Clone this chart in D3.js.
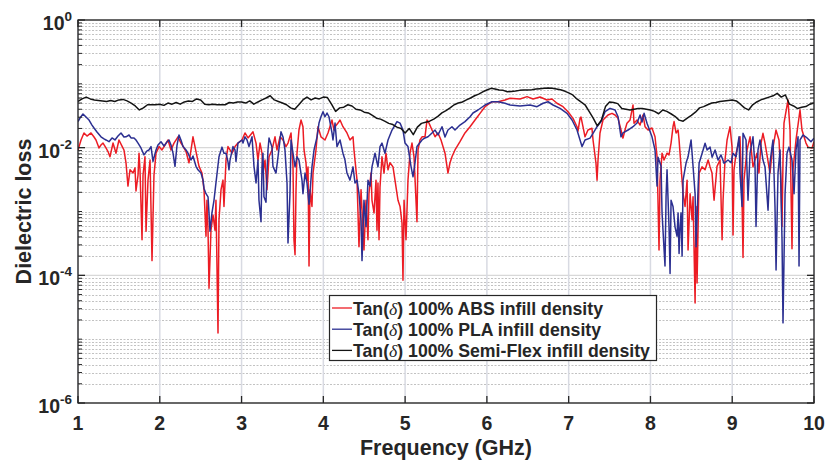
<!DOCTYPE html>
<html><head><meta charset="utf-8">
<script src="https://cdn.jsdelivr.net/npm/d3@7"></script>
<style>body{margin:0;background:#fff}svg{display:block}</style>
</head><body>
<svg id="c" width="827" height="462"></svg>
<script>
// ---- data: [frequency (GHz), tan(delta)] ----
const xTickValues=[1,2,3,4,5,6,7,8,9,10];
const yLabelExponents=[-6,-4,-2,0];
const legendLabels=["ABS","PLA","Semi-Flex"];

const absData=[[1.000,0.0092],[1.037,0.0132],[1.073,0.0170],[1.110,0.0152],[1.159,0.0170],[1.196,0.0147],[1.220,0.0132],[1.257,0.0099],[1.281,0.0110],[1.306,0.0118],[1.342,0.0099],[1.367,0.0087],[1.391,0.0072],[1.428,0.0118],[1.465,0.0082],[1.501,0.0132],[1.538,0.0106],[1.562,0.0092],[1.587,0.0058],[1.611,0.0025],[1.636,0.0045],[1.673,0.0040],[1.697,0.0048],[1.709,0.0021],[1.734,0.0037],[1.746,0.0082],[1.758,0.0045],[1.783,0.00036],[1.795,0.0037],[1.819,0.0072],[1.832,0.00049],[1.856,0.0031],[1.881,0.0064],[1.905,0.00017],[1.929,0.0037],[1.954,0.0082],[1.991,0.0104],[2.027,0.0092],[2.064,0.0110],[2.101,0.0132],[2.137,0.0092],[2.174,0.0118],[2.223,0.0148],[2.259,0.0118],[2.284,0.0106],[2.321,0.0087],[2.357,0.0058],[2.382,0.0092],[2.406,0.0148],[2.443,0.0087],[2.480,0.0051],[2.516,0.0040],[2.541,0.0022],[2.565,0.00041],[2.577,0.0015],[2.590,0.00051],[2.602,0.000063],[2.626,0.00051],[2.651,0.00088],[2.675,0.00051],[2.687,0.0015],[2.712,0.0000125],[2.724,0.00074],[2.749,0.0022],[2.773,0.0031],[2.785,0.0012],[2.810,0.0064],[2.834,0.0104],[2.883,0.0082],[2.920,0.0104],[2.956,0.0118],[3.005,0.0132],[3.042,0.0170],[3.079,0.0142],[3.128,0.0170],[3.140,0.0177],[3.177,0.0118],[3.201,0.0064],[3.226,0.0118],[3.250,0.0082],[3.262,0.0040],[3.287,0.0064],[3.311,0.0022],[3.336,0.0072],[3.372,0.0092],[3.409,0.0148],[3.433,0.0092],[3.470,0.0148],[3.507,0.0132],[3.543,0.0104],[3.568,0.0118],[3.605,0.0170],[3.629,0.0051],[3.641,0.00036],[3.654,0.00021],[3.666,0.0022],[3.678,0.0082],[3.702,0.0189],[3.727,0.0271],[3.751,0.0213],[3.764,0.0092],[3.788,0.0058],[3.800,0.0031],[3.813,0.0050],[3.825,0.00014],[3.837,0.0022],[3.861,0.0012],[3.874,0.0040],[3.910,0.0092],[3.935,0.0213],[3.971,0.0148],[4.020,0.0132],[4.057,0.0170],[4.106,0.0271],[4.130,0.0189],[4.143,0.0213],[4.179,0.0243],[4.204,0.0271],[4.240,0.0213],[4.289,0.0170],[4.326,0.0132],[4.363,0.0148],[4.375,0.0092],[4.412,0.0031],[4.436,0.00028],[4.461,0.0022],[4.497,0.00025],[4.522,0.0015],[4.546,0.00036],[4.558,0.0019],[4.583,0.0040],[4.595,0.0015],[4.620,0.00095],[4.644,0.0031],[4.656,0.00051],[4.668,0.0028],[4.681,0.00036],[4.693,0.0024],[4.717,0.0072],[4.742,0.0040],[4.766,0.0082],[4.791,0.0045],[4.815,0.0058],[4.852,0.0050],[4.876,0.0031],[4.913,0.0015],[4.938,0.0012],[4.962,0.00066],[4.974,0.000084],[4.987,0.0015],[5.011,0.00036],[5.035,0.0031],[5.060,0.0082],[5.084,0.0118],[5.109,0.0072],[5.145,0.00069],[5.158,0.0092],[5.182,0.0132],[5.207,0.0148],[5.243,0.0148],[5.268,0.0271],[5.292,0.0242],[5.329,0.0189],[5.366,0.0148],[5.402,0.0170],[5.439,0.0132],[5.488,0.0082],[5.524,0.0040],[5.549,0.0058],[5.573,0.0072],[5.610,0.0092],[5.671,0.0124],[5.732,0.0170],[5.794,0.0213],[5.855,0.0271],[5.916,0.0345],[5.977,0.0438],[6.063,0.0524],[6.136,0.0524],[6.222,0.0558],[6.283,0.0594],[6.405,0.0578],[6.491,0.0630],[6.564,0.0578],[6.650,0.0622],[6.735,0.0558],[6.796,0.0578],[6.857,0.0496],[6.931,0.0438],[6.992,0.0365],[7.053,0.0288],[7.102,0.0213],[7.114,0.0182],[7.139,0.0288],[7.151,0.0302],[7.175,0.0213],[7.200,0.0148],[7.236,0.0189],[7.285,0.0201],[7.298,0.0132],[7.334,0.0057],[7.347,0.0031],[7.359,0.0064],[7.383,0.0170],[7.420,0.0271],[7.481,0.0325],[7.530,0.0345],[7.567,0.0325],[7.604,0.0288],[7.640,0.0189],[7.664,0.0141],[7.689,0.0189],[7.713,0.0242],[7.750,0.0271],[7.787,0.0466],[7.799,0.0242],[7.836,0.0271],[7.873,0.0226],[7.909,0.0325],[7.934,0.0213],[7.971,0.0189],[8.019,0.0203],[8.056,0.0148],[8.081,0.0072],[8.105,0.00025],[8.117,0.0031],[8.142,0.0082],[8.166,0.0064],[8.203,0.0082],[8.227,0.0077],[8.252,0.0118],[8.276,0.0213],[8.289,0.0256],[8.313,0.0170],[8.338,0.0189],[8.350,0.0132],[8.374,0.0051],[8.399,0.0019],[8.423,0.0012],[8.448,0.0031],[8.460,0.00025],[8.485,0.0019],[8.509,0.00074],[8.521,0.0017],[8.546,0.000037],[8.558,0.0012],[8.570,0.000076],[8.595,0.0040],[8.631,0.0050],[8.668,0.0045],[8.705,0.0064],[8.729,0.0050],[8.753,0.0040],[8.778,0.0015],[8.814,0.0051],[8.851,0.0064],[8.876,0.00036],[8.888,0.0015],[8.912,0.0064],[8.937,0.0132],[8.973,0.0213],[8.998,0.0102],[9.010,0.00043],[9.022,0.0045],[9.047,0.0082],[9.095,0.0148],[9.120,0.0015],[9.132,0.00019],[9.144,0.0031],[9.181,0.0092],[9.218,0.0148],[9.254,0.0050],[9.303,0.0082],[9.327,0.0040],[9.352,0.0118],[9.376,0.0168],[9.401,0.0118],[9.425,0.0077],[9.462,0.0040],[9.487,0.0082],[9.535,0.0189],[9.572,0.0132],[9.596,0.0031],[9.609,0.00058],[9.621,0.0064],[9.633,0.0242],[9.682,0.0558],[9.707,0.0189],[9.731,0.00026],[9.743,0.0045],[9.780,0.0132],[9.829,0.0389],[9.853,0.0189],[9.902,0.0118],[9.927,0.0102],[9.976,0.0099],[10.000,0.0124]];

const plaData=[[1.000,0.0256],[1.024,0.0291],[1.061,0.0337],[1.098,0.0302],[1.135,0.0271],[1.171,0.0226],[1.196,0.0203],[1.232,0.0176],[1.281,0.0148],[1.318,0.0137],[1.342,0.0132],[1.379,0.0124],[1.416,0.0142],[1.452,0.0132],[1.489,0.0152],[1.526,0.0170],[1.562,0.0147],[1.587,0.0148],[1.624,0.0158],[1.648,0.0142],[1.685,0.0142],[1.709,0.0132],[1.734,0.0118],[1.770,0.0099],[1.807,0.0077],[1.844,0.0089],[1.868,0.0092],[1.893,0.0104],[1.917,0.0061],[1.954,0.0092],[1.978,0.0110],[2.015,0.0124],[2.052,0.0106],[2.088,0.0123],[2.113,0.0132],[2.137,0.0110],[2.162,0.0082],[2.186,0.0051],[2.211,0.0110],[2.235,0.0158],[2.259,0.0132],[2.284,0.0104],[2.321,0.0092],[2.345,0.0082],[2.382,0.0064],[2.406,0.0074],[2.443,0.0051],[2.467,0.0045],[2.504,0.0040],[2.529,0.0031],[2.541,0.0023],[2.565,0.0019],[2.590,0.0017],[2.602,0.00095],[2.614,0.00049],[2.638,0.00095],[2.663,0.0015],[2.687,0.0028],[2.712,0.0053],[2.724,0.0072],[2.761,0.0102],[2.785,0.0082],[2.810,0.0082],[2.834,0.0060],[2.846,0.0045],[2.859,0.0064],[2.895,0.0104],[2.920,0.0092],[2.932,0.0061],[2.956,0.0118],[3.005,0.0132],[3.018,0.0118],[3.042,0.0148],[3.067,0.0132],[3.091,0.0104],[3.128,0.0148],[3.152,0.0051],[3.177,0.0028],[3.201,0.0064],[3.213,0.0015],[3.238,0.00069],[3.250,0.0050],[3.262,0.0082],[3.274,0.0017],[3.299,0.0014],[3.311,0.0040],[3.323,0.0092],[3.336,0.0142],[3.372,0.0102],[3.384,0.0051],[3.421,0.0040],[3.446,0.0072],[3.482,0.0177],[3.507,0.0147],[3.531,0.0092],[3.556,0.0028],[3.568,0.00032],[3.592,0.0019],[3.605,0.0132],[3.629,0.0082],[3.654,0.0050],[3.678,0.0072],[3.702,0.0064],[3.739,0.0031],[3.751,0.0019],[3.776,0.0040],[3.800,0.0028],[3.825,0.0013],[3.861,0.0050],[3.886,0.0092],[3.923,0.0148],[3.947,0.0243],[3.971,0.0305],[3.996,0.0366],[4.020,0.0305],[4.045,0.0349],[4.069,0.0305],[4.106,0.0170],[4.118,0.0132],[4.143,0.0243],[4.167,0.0104],[4.204,0.0132],[4.240,0.0082],[4.265,0.0064],[4.289,0.0040],[4.326,0.0031],[4.363,0.0050],[4.387,0.0028],[4.412,0.0031],[4.436,0.0019],[4.461,0.00074],[4.473,0.00017],[4.497,0.0015],[4.522,0.00058],[4.546,0.0031],[4.571,0.0025],[4.595,0.0050],[4.632,0.0082],[4.668,0.0050],[4.693,0.0104],[4.717,0.0118],[4.754,0.0082],[4.791,0.0132],[4.840,0.0189],[4.901,0.0256],[4.938,0.0242],[4.974,0.0189],[4.999,0.0118],[5.035,0.0104],[5.072,0.0051],[5.097,0.0035],[5.121,0.0058],[5.145,0.0104],[5.207,0.0132],[5.243,0.0142],[5.280,0.0148],[5.329,0.0170],[5.366,0.0189],[5.402,0.0158],[5.451,0.0213],[5.488,0.0147],[5.524,0.0189],[5.573,0.0213],[5.610,0.0189],[5.671,0.0226],[5.732,0.0256],[5.794,0.0305],[5.830,0.0349],[5.891,0.0389],[5.977,0.0466],[6.063,0.0524],[6.136,0.0524],[6.222,0.0496],[6.283,0.0466],[6.405,0.0449],[6.528,0.0466],[6.613,0.0438],[6.687,0.0496],[6.748,0.0524],[6.809,0.0466],[6.895,0.0413],[6.980,0.0345],[7.041,0.0271],[7.102,0.0189],[7.139,0.0132],[7.163,0.0104],[7.200,0.0132],[7.261,0.0141],[7.298,0.0168],[7.347,0.0213],[7.396,0.0256],[7.445,0.0366],[7.506,0.0413],[7.567,0.0389],[7.604,0.0305],[7.640,0.0148],[7.664,0.0170],[7.726,0.0189],[7.787,0.0213],[7.836,0.0243],[7.873,0.0325],[7.897,0.0252],[7.922,0.0345],[7.958,0.0242],[8.019,0.0148],[8.056,0.0092],[8.081,0.0025],[8.093,0.0071],[8.130,0.0051],[8.142,0.00094],[8.178,0.00014],[8.191,0.0017],[8.203,0.0045],[8.227,0.00058],[8.240,0.000107],[8.252,0.0015],[8.276,0.0012],[8.301,0.00057],[8.325,0.00041],[8.338,0.00095],[8.350,0.00022],[8.362,0.00057],[8.374,0.00095],[8.387,0.00020],[8.399,0.0031],[8.436,0.0058],[8.460,0.0072],[8.497,0.0132],[8.509,0.0082],[8.546,0.0019],[8.558,0.00028],[8.583,0.0024],[8.595,0.0057],[8.644,0.0092],[8.668,0.0117],[8.693,0.0092],[8.729,0.0102],[8.754,0.0071],[8.790,0.0092],[8.827,0.0064],[8.863,0.0077],[8.900,0.0057],[8.949,0.0064],[8.986,0.0058],[9.010,0.0082],[9.047,0.0072],[9.083,0.0148],[9.095,0.0040],[9.120,0.0012],[9.132,0.0168],[9.169,0.0132],[9.193,0.0015],[9.218,0.0082],[9.254,0.0148],[9.279,0.0050],[9.291,0.00058],[9.315,0.0092],[9.340,0.0132],[9.376,0.0064],[9.401,0.0050],[9.438,0.00105],[9.462,0.0058],[9.487,0.0104],[9.499,0.0132],[9.523,0.0012],[9.536,0.000121],[9.560,0.0040],[9.585,0.0092],[9.609,0.00036],[9.621,0.000018],[9.646,0.0019],[9.670,0.0082],[9.694,0.0102],[9.731,0.0064],[9.756,0.0019],[9.780,0.0092],[9.805,0.0148],[9.817,0.00014],[9.829,0.0132],[9.866,0.0158],[9.915,0.0142],[9.963,0.0124],[10.000,0.0141]];

const flexData=[[1.00,0.053],[1.05,0.058],[1.10,0.062],[1.15,0.058],[1.20,0.056],[1.25,0.055],[1.30,0.054],[1.35,0.053],[1.40,0.055],[1.45,0.053],[1.50,0.056],[1.55,0.057],[1.60,0.054],[1.65,0.050],[1.70,0.045],[1.75,0.039],[1.80,0.042],[1.85,0.047],[1.90,0.047],[1.95,0.047],[2.00,0.048],[2.05,0.046],[2.10,0.050],[2.15,0.048],[2.20,0.051],[2.25,0.048],[2.30,0.052],[2.35,0.054],[2.40,0.053],[2.45,0.058],[2.50,0.056],[2.55,0.048],[2.60,0.047],[2.65,0.048],[2.70,0.047],[2.75,0.047],[2.80,0.047],[2.85,0.051],[2.90,0.050],[2.95,0.052],[3.00,0.052],[3.05,0.050],[3.10,0.054],[3.15,0.048],[3.20,0.052],[3.25,0.056],[3.30,0.060],[3.35,0.065],[3.40,0.056],[3.45,0.053],[3.50,0.050],[3.55,0.047],[3.60,0.042],[3.65,0.040],[3.70,0.047],[3.75,0.056],[3.80,0.062],[3.85,0.056],[3.90,0.060],[3.95,0.058],[4.00,0.062],[4.05,0.061],[4.10,0.048],[4.15,0.037],[4.20,0.042],[4.25,0.043],[4.30,0.047],[4.35,0.045],[4.40,0.040],[4.45,0.039],[4.50,0.036],[4.55,0.035],[4.60,0.032],[4.65,0.029],[4.70,0.028],[4.75,0.026],[4.80,0.024],[4.85,0.023],[4.90,0.021],[4.95,0.020],[5.00,0.017],[5.05,0.020],[5.10,0.016],[5.15,0.021],[5.20,0.024],[5.25,0.025],[5.30,0.026],[5.35,0.028],[5.40,0.031],[5.45,0.035],[5.50,0.038],[5.55,0.042],[5.60,0.047],[5.65,0.050],[5.70,0.052],[5.75,0.056],[5.80,0.060],[5.85,0.065],[5.90,0.069],[5.95,0.075],[6.00,0.080],[6.05,0.085],[6.10,0.083],[6.15,0.080],[6.20,0.079],[6.25,0.075],[6.30,0.076],[6.35,0.077],[6.40,0.079],[6.45,0.080],[6.50,0.080],[6.55,0.081],[6.60,0.083],[6.65,0.084],[6.70,0.085],[6.75,0.086],[6.80,0.085],[6.85,0.083],[6.90,0.081],[6.95,0.077],[7.00,0.072],[7.05,0.067],[7.10,0.058],[7.15,0.052],[7.20,0.047],[7.25,0.037],[7.30,0.029],[7.35,0.022],[7.40,0.027],[7.45,0.044],[7.50,0.052],[7.55,0.051],[7.60,0.049],[7.65,0.041],[7.70,0.040],[7.75,0.039],[7.80,0.040],[7.85,0.041],[7.90,0.041],[7.95,0.040],[8.00,0.039],[8.05,0.037],[8.10,0.034],[8.15,0.039],[8.20,0.037],[8.25,0.034],[8.30,0.031],[8.35,0.027],[8.40,0.026],[8.45,0.029],[8.50,0.032],[8.55,0.036],[8.60,0.042],[8.65,0.044],[8.70,0.047],[8.75,0.050],[8.80,0.051],[8.85,0.053],[8.90,0.054],[8.95,0.055],[9.00,0.056],[9.05,0.054],[9.10,0.048],[9.15,0.042],[9.20,0.039],[9.25,0.047],[9.30,0.052],[9.35,0.056],[9.40,0.059],[9.45,0.062],[9.50,0.065],[9.55,0.071],[9.60,0.062],[9.65,0.067],[9.70,0.048],[9.75,0.045],[9.80,0.041],[9.85,0.043],[9.90,0.044],[9.95,0.048],[10.00,0.050]];

// ---- layout ----
const L=78,R=814,T=20,B=403;
const AX="#262626";
const FONT="Liberation Sans, Arial, Helvetica, sans-serif";
const x=d3.scaleLinear().domain([1,10]).range([L,R]);
const y=d3.scaleLog().domain([1e-6,1]).range([B,T]);
const svg=d3.select("#c");

const yMajor=yLabelExponents.map(e=>Math.pow(10,e));
const yMinor=[];
for(let e=-6;e<0;e++){for(let m=1;m<10;m++){const v=m*Math.pow(10,e);if(!yMajor.some(t=>Math.abs(t-v)/v<1e-9))yMinor.push(v);}}

const g=svg.append("g");
g.selectAll("line.ymin").data(yMinor).enter().append("line")
 .attr("x1",L).attr("x2",R).attr("y1",d=>Math.round(y(d))+0.5).attr("y2",d=>Math.round(y(d))+0.5)
 .attr("stroke","#c2c2c2").attr("stroke-width",1).attr("stroke-dasharray","2,1.5");
g.selectAll("line.ymaj").data(yMajor).enter().append("line")
 .attr("x1",L).attr("x2",R).attr("y1",d=>y(d)).attr("y2",d=>y(d))
 .attr("stroke","#d8d8d8").attr("stroke-width",1.3);
g.selectAll("line.xmaj").data(xTickValues).enter().append("line")
 .attr("y1",T).attr("y2",B).attr("x1",d=>x(d)).attr("x2",d=>x(d))
 .attr("stroke","#d8dae2").attr("stroke-width",1.5);

svg.append("defs").append("clipPath").attr("id","clip").append("rect")
 .attr("x",L).attr("y",T).attr("width",R-L).attr("height",B-T);

const line=d3.line().x(d=>x(d[0])).y(d=>y(d[1]));
const series=[
 {data:absData,color:"#ec1c24"},
 {data:plaData,color:"#2b2f91"},
 {data:flexData,color:"#141414"}
];
const lg=svg.append("g").attr("clip-path","url(#clip)");
series.forEach(s=>{
 lg.append("path").datum(s.data).attr("d",line).attr("fill","none")
  .attr("stroke",s.color).attr("stroke-width",1.5).attr("stroke-linejoin","round");
});

const ax=svg.append("g");
ax.append("rect").attr("x",L).attr("y",T).attr("width",R-L).attr("height",B-T)
 .attr("fill","none").attr("stroke",AX).attr("stroke-width",1.3);
xTickValues.forEach(v=>{
 ax.append("line").attr("x1",x(v)).attr("x2",x(v)).attr("y1",B).attr("y2",B-7).attr("stroke",AX).attr("stroke-width",1.3);
 ax.append("line").attr("x1",x(v)).attr("x2",x(v)).attr("y1",T).attr("y2",T+7).attr("stroke",AX).attr("stroke-width",1.3);
});
yMajor.forEach(v=>{
 ax.append("line").attr("x1",L).attr("x2",L+7).attr("y1",y(v)).attr("y2",y(v)).attr("stroke",AX).attr("stroke-width",1.3);
 ax.append("line").attr("x1",R).attr("x2",R-7).attr("y1",y(v)).attr("y2",y(v)).attr("stroke",AX).attr("stroke-width",1.3);
});
yMinor.forEach(v=>{
 ax.append("line").attr("x1",L).attr("x2",L+4).attr("y1",y(v)).attr("y2",y(v)).attr("stroke",AX).attr("stroke-width",1);
 ax.append("line").attr("x1",R).attr("x2",R-4).attr("y1",y(v)).attr("y2",y(v)).attr("stroke",AX).attr("stroke-width",1);
});

ax.selectAll("text.xl").data(xTickValues).enter().append("text")
 .attr("x",d=>x(d)).attr("y",430).attr("text-anchor","middle")
 .attr("font-family",FONT).attr("font-weight","bold").attr("font-size",19.5).attr("fill",AX)
 .text(d=>d);
yLabelExponents.forEach(e=>{
 const t=ax.append("text").attr("x",72).attr("y",y(Math.pow(10,e))+10).attr("text-anchor","end")
  .attr("font-family",FONT).attr("font-weight","bold").attr("fill",AX);
 t.append("tspan").attr("font-size",19.5).text("10");
 t.append("tspan").attr("font-size",13.5).attr("dy",-9).text(e===0?"0":"-"+Math.abs(e));
});

svg.append("text").attr("x",(L+R)/2).attr("y",455).attr("text-anchor","middle")
 .attr("font-family",FONT).attr("font-weight","bold").attr("font-size",21.5).attr("fill",AX)
 .text("Frequency (GHz)");
svg.append("text").attr("transform",`translate(31,${(T+B)/2}) rotate(-90)`).attr("text-anchor","middle")
 .attr("font-family",FONT).attr("font-weight","bold").attr("font-size",21.5).attr("fill",AX)
 .text("Dielectric loss");

const leg=svg.append("g");
leg.append("rect").attr("x",329.5).attr("y",295.5).attr("width",327).attr("height",65)
 .attr("fill","#fff").attr("stroke",AX).attr("stroke-width",1.2);
series.forEach((s,i)=>{
 const cy=308+i*21.2;
 leg.append("line").attr("x1",332).attr("x2",352).attr("y1",cy).attr("y2",cy).attr("stroke",s.color).attr("stroke-width",1.3);
 const t=leg.append("text").attr("x",353).attr("y",cy+6.5)
  .attr("font-family",FONT).attr("font-weight","bold").attr("font-size",17.7).attr("fill",AX);
 t.append("tspan").text("Tan(");
 t.append("tspan").attr("font-family","Liberation Serif, DejaVu Serif, serif").attr("font-style","italic").attr("font-weight","normal").text("δ");
 t.append("tspan").text(") 100% "+legendLabels[i]+" infill density");
});
</script>
</body></html>
